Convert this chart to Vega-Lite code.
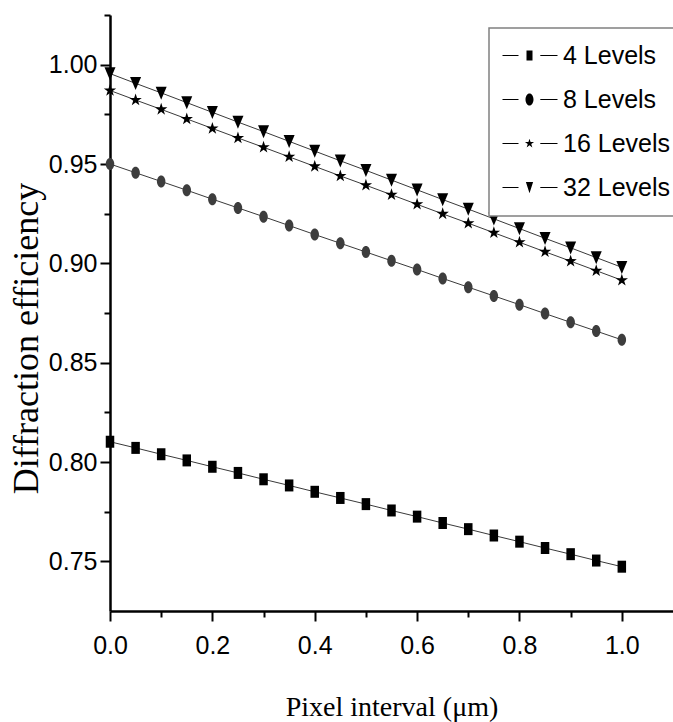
{
  "$schema": "https://vega.github.io/schema/vega-lite/v6.json",
  "width": 563,
  "height": 596,
  "autosize": "none",
  "padding": {"left": 110, "top": 15, "right": 0, "bottom": 111},
  "background": "white",
  "config": {
    "view": {"stroke": null},
    "legend": {"strokeWidth": 1.5}
  },
  "data": {
    "values": [
      {"x": 0.00, "y": 0.8102, "series": "4 Levels"},
      {"x": 0.05, "y": 0.8071, "series": "4 Levels"},
      {"x": 0.10, "y": 0.8039, "series": "4 Levels"},
      {"x": 0.15, "y": 0.8008, "series": "4 Levels"},
      {"x": 0.20, "y": 0.7976, "series": "4 Levels"},
      {"x": 0.25, "y": 0.7945, "series": "4 Levels"},
      {"x": 0.30, "y": 0.7913, "series": "4 Levels"},
      {"x": 0.35, "y": 0.7882, "series": "4 Levels"},
      {"x": 0.40, "y": 0.7850, "series": "4 Levels"},
      {"x": 0.45, "y": 0.7819, "series": "4 Levels"},
      {"x": 0.50, "y": 0.7788, "series": "4 Levels"},
      {"x": 0.55, "y": 0.7756, "series": "4 Levels"},
      {"x": 0.60, "y": 0.7725, "series": "4 Levels"},
      {"x": 0.65, "y": 0.7693, "series": "4 Levels"},
      {"x": 0.70, "y": 0.7662, "series": "4 Levels"},
      {"x": 0.75, "y": 0.7630, "series": "4 Levels"},
      {"x": 0.80, "y": 0.7599, "series": "4 Levels"},
      {"x": 0.85, "y": 0.7567, "series": "4 Levels"},
      {"x": 0.90, "y": 0.7536, "series": "4 Levels"},
      {"x": 0.95, "y": 0.7504, "series": "4 Levels"},
      {"x": 1.00, "y": 0.7473, "series": "4 Levels"},
      {"x": 0.00, "y": 0.9500, "series": "8 Levels"},
      {"x": 0.05, "y": 0.9456, "series": "8 Levels"},
      {"x": 0.10, "y": 0.9412, "series": "8 Levels"},
      {"x": 0.15, "y": 0.9368, "series": "8 Levels"},
      {"x": 0.20, "y": 0.9323, "series": "8 Levels"},
      {"x": 0.25, "y": 0.9279, "series": "8 Levels"},
      {"x": 0.30, "y": 0.9235, "series": "8 Levels"},
      {"x": 0.35, "y": 0.9190, "series": "8 Levels"},
      {"x": 0.40, "y": 0.9145, "series": "8 Levels"},
      {"x": 0.45, "y": 0.9101, "series": "8 Levels"},
      {"x": 0.50, "y": 0.9057, "series": "8 Levels"},
      {"x": 0.55, "y": 0.9013, "series": "8 Levels"},
      {"x": 0.60, "y": 0.8969, "series": "8 Levels"},
      {"x": 0.65, "y": 0.8924, "series": "8 Levels"},
      {"x": 0.70, "y": 0.8880, "series": "8 Levels"},
      {"x": 0.75, "y": 0.8836, "series": "8 Levels"},
      {"x": 0.80, "y": 0.8792, "series": "8 Levels"},
      {"x": 0.85, "y": 0.8747, "series": "8 Levels"},
      {"x": 0.90, "y": 0.8703, "series": "8 Levels"},
      {"x": 0.95, "y": 0.8659, "series": "8 Levels"},
      {"x": 1.00, "y": 0.8615, "series": "8 Levels"},
      {"x": 0.00, "y": 0.9870, "series": "16 Levels"},
      {"x": 0.05, "y": 0.9822, "series": "16 Levels"},
      {"x": 0.10, "y": 0.9775, "series": "16 Levels"},
      {"x": 0.15, "y": 0.9727, "series": "16 Levels"},
      {"x": 0.20, "y": 0.9679, "series": "16 Levels"},
      {"x": 0.25, "y": 0.9631, "series": "16 Levels"},
      {"x": 0.30, "y": 0.9584, "series": "16 Levels"},
      {"x": 0.35, "y": 0.9536, "series": "16 Levels"},
      {"x": 0.40, "y": 0.9488, "series": "16 Levels"},
      {"x": 0.45, "y": 0.9440, "series": "16 Levels"},
      {"x": 0.50, "y": 0.9393, "series": "16 Levels"},
      {"x": 0.55, "y": 0.9345, "series": "16 Levels"},
      {"x": 0.60, "y": 0.9297, "series": "16 Levels"},
      {"x": 0.65, "y": 0.9249, "series": "16 Levels"},
      {"x": 0.70, "y": 0.9202, "series": "16 Levels"},
      {"x": 0.75, "y": 0.9154, "series": "16 Levels"},
      {"x": 0.80, "y": 0.9106, "series": "16 Levels"},
      {"x": 0.85, "y": 0.9058, "series": "16 Levels"},
      {"x": 0.90, "y": 0.9011, "series": "16 Levels"},
      {"x": 0.95, "y": 0.8963, "series": "16 Levels"},
      {"x": 1.00, "y": 0.8915, "series": "16 Levels"},
      {"x": 0.00, "y": 0.9955, "series": "32 Levels"},
      {"x": 0.05, "y": 0.9906, "series": "32 Levels"},
      {"x": 0.10, "y": 0.9858, "series": "32 Levels"},
      {"x": 0.15, "y": 0.9809, "series": "32 Levels"},
      {"x": 0.20, "y": 0.9760, "series": "32 Levels"},
      {"x": 0.25, "y": 0.9711, "series": "32 Levels"},
      {"x": 0.30, "y": 0.9663, "series": "32 Levels"},
      {"x": 0.35, "y": 0.9614, "series": "32 Levels"},
      {"x": 0.40, "y": 0.9565, "series": "32 Levels"},
      {"x": 0.45, "y": 0.9516, "series": "32 Levels"},
      {"x": 0.50, "y": 0.9468, "series": "32 Levels"},
      {"x": 0.55, "y": 0.9419, "series": "32 Levels"},
      {"x": 0.60, "y": 0.9370, "series": "32 Levels"},
      {"x": 0.65, "y": 0.9321, "series": "32 Levels"},
      {"x": 0.70, "y": 0.9273, "series": "32 Levels"},
      {"x": 0.75, "y": 0.9224, "series": "32 Levels"},
      {"x": 0.80, "y": 0.9175, "series": "32 Levels"},
      {"x": 0.85, "y": 0.9126, "series": "32 Levels"},
      {"x": 0.90, "y": 0.9078, "series": "32 Levels"},
      {"x": 0.95, "y": 0.9029, "series": "32 Levels"},
      {"x": 1.00, "y": 0.8980, "series": "32 Levels"}
    ]
  },
  "encoding": {
    "x": {
      "field": "x", "type": "quantitative",
      "scale": {"domain": [0, 1.1], "nice": false, "zero": false},
      "axis": {
        "values": [0, 0.1, 0.2, 0.3, 0.4, 0.5, 0.6, 0.7, 0.8, 0.9, 1.0],
        "labelExpr": "round(datum.value*10) % 2 == 0 ? format(datum.value, '.1f') : ''",
        "tickSize": {"condition": {"test": "round(datum.value*10) % 2 == 0", "value": 10}, "value": 6},
        "grid": false,
        "domainColor": "black", "domainWidth": 2.5,
        "tickColor": "black", "tickWidth": 2,
        "labelFont": "Liberation Sans",
        "labelFontSize": 25, "labelColor": "black", "labelPadding": 12,
        "labelFlush": false, "labelOverlap": false,
        "title": "Pixel interval (μm)",
        "titleFont": "Liberation Serif", "titleFontSize": 28, "titleFontWeight": "normal",
        "titleColor": "black", "titleX": 281.5, "titleY": 104, "titleBaseline": "alphabetic", "titleAlign": "center"
      }
    },
    "y": {
      "field": "y", "type": "quantitative",
      "scale": {"domain": [0.725, 1.025], "nice": false, "zero": false},
      "axis": {
        "values": [0.75, 0.775, 0.8, 0.825, 0.85, 0.875, 0.9, 0.925, 0.95, 0.975, 1.0, 1.025],
        "labelExpr": "round(datum.value*40) % 2 == 0 ? format(datum.value, '.2f') : ''",
        "tickSize": {"condition": {"test": "round(datum.value*40) % 2 == 0", "value": 10}, "value": 6},
        "grid": false,
        "domainColor": "black", "domainWidth": 2.5,
        "tickColor": "black", "tickWidth": 2,
        "labelFont": "Liberation Sans",
        "labelFontSize": 25, "labelColor": "black", "labelPadding": 3,
        "labelFlush": false, "labelOverlap": false,
        "title": "Diffraction efficiency",
        "titleFont": "Liberation Serif", "titleFontSize": 36, "titleFontWeight": "normal",
        "titleColor": "black", "titleX": -73, "titleY": 323, "titleBaseline": "alphabetic", "titleAlign": "center", "titleAngle": -90
      }
    }
  },
  "layer": [
    {
      "mark": {"type": "line", "color": "#3a3a3a", "strokeWidth": 1},
      "encoding": {"detail": {"field": "series"}}
    },
    {
      "mark": {"type": "point", "filled": true, "opacity": 1, "size": 100},
      "encoding": {
        "shape": {
          "field": "series", "type": "nominal",
          "scale": {
            "domain": ["4 Levels", "8 Levels", "16 Levels", "32 Levels"],
            "range": [
              "M-0.85,-1.2H0.85V1.2H-0.85Z",
              "M-0.85,0A0.85,1.2,0,1,1,0.85,0A0.85,1.2,0,1,1,-0.85,0Z",
              "M0,-1.3L0.294,-0.405L1.236,-0.402L0.476,0.155L0.764,1.052L0,0.5L-0.764,1.052L-0.476,0.155L-1.236,-0.402L-0.294,-0.405Z",
              "M-1.1,-1.25H1.1L0,1.35Z"
            ]
          },
          "legend": null
        },
        "color": {
          "field": "series", "type": "nominal",
          "scale": {
            "domain": ["4 Levels", "8 Levels", "16 Levels", "32 Levels"],
            "range": ["#000000", "#3d3d3d", "#000000", "#000000"]
          },
          "legend": null
        }
      }
    },
    {
      "transform": [{"filter": "false"}],
      "mark": {"type": "point", "filled": true, "fill": "black", "opacity": 1},
      "encoding": {
        "shape": {
          "field": "series", "type": "nominal",
          "scale": {
            "domain": ["4 Levels", "8 Levels", "16 Levels", "32 Levels"],
            "range": [
              "M-6.75,-0.13H-2.75V0.13H-6.75ZM2.7,-0.13H7V0.13H2.7ZM-0.75,-1.25H0.75V1.25H-0.75Z",
              "M-6.75,-0.13H-2.75V0.13H-6.75ZM2.7,-0.13H7V0.13H2.7ZM-1,0A1,1.5,0,1,1,1,0A1,1.5,0,1,1,-1,0Z",
              "M-6.75,-0.13H-2.75V0.13H-6.75ZM2.7,-0.13H7V0.13H2.7ZM0,-1.2L0.27,-0.372L1.141,-0.371L0.4375,0.142L0.705,0.971L0,0.46L-0.705,0.971L-0.4375,0.142L-1.141,-0.371L-0.27,-0.372Z",
              "M-6.75,-0.13H-2.75V0.13H-6.75ZM2.7,-0.13H7V0.13H2.7ZM-0.9,-1.35H0.9L0,1.45Z"
            ]
          },
          "legend": {
            "title": null,
            "orient": "none",
            "legendX": 379,
            "legendY": 13,
            "strokeColor": "#808080",
            "fillColor": "white",
            "padding": 15,
            "rowPadding": 18,
            "symbolSize": 64,
            "symbolOffset": 13,
            "labelOffset": 21,
            "symbolStrokeWidth": 0,
            "labelFont": "Liberation Sans",
            "labelFontSize": 25,
            "labelColor": "black",
            "labelLimit": 300
          }
        }
      }
    }
  ],
  "resolve": {"scale": {"shape": "independent"}}
}
